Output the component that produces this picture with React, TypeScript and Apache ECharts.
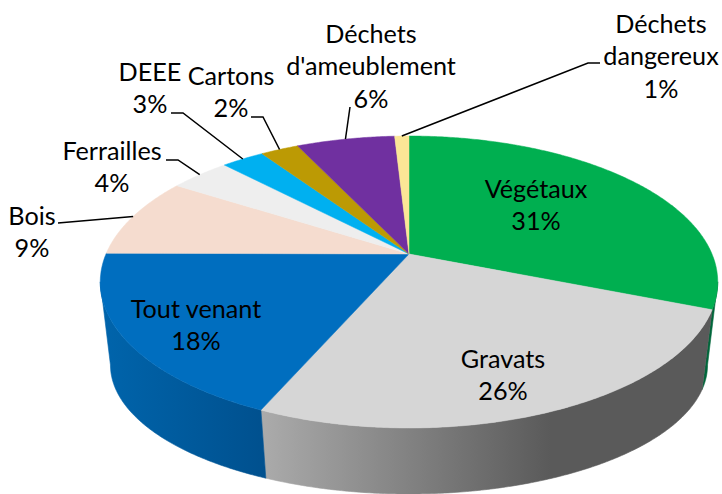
import React, { useEffect, useRef } from "react";
import * as echarts from "echarts";

const categories = ["Végétaux", "Gravats", "Tout venant", "Bois", "Ferrailles", "DEEE", "Cartons", "Déchets\nd'ameublement", "Déchets\ndangereux"];
const values = [31, 25.6, 18.49, 8.91, 3.8, 2.7, 2.4, 6.2, 0.9];
const colors = ["#00AF50", "#D6D6D6", "#006EBF", "#F5DCCF", "#EEEEEE", "#00B0F0", "#BC9A04", "#7030A0", "#FBE696"];

const total = values.reduce((a, b) => a + b, 0);
const cumulative = values.reduce<number[]>((acc, v) => [...acc, acc[acc.length - 1] + v], [0]);

// Perspective disc projection
const CX = 409, PERSP = 0.1918;
const TOP = { cy: 254, a: 140.6, b: 303 };
const BOTTOM = { cy: 340.3, a: 124.2, b: 293 };
const FRONT_FROM = 101, FRONT_TO = 259;

const toAngle = (v: number) => (v / total) * 360;
function project(deg: number, disc: { cy: number; a: number; b: number }) {
  const t = (deg * Math.PI) / 180;
  const X = Math.sin(t), Y = -Math.cos(t);
  const s = 1 / (1 - PERSP * Y);
  return [CX + disc.b * X * s, disc.cy + disc.a * Y * s];
}
function arc(from: number, to: number, disc: { cy: number; a: number; b: number }) {
  const n = Math.max(2, Math.ceil(Math.abs(to - from) * 2));
  const pts: number[][] = [];
  for (let i = 0; i <= n; i++) pts.push(project(from + ((to - from) * i) / n, disc));
  return pts;
}

// Side fills (x in page pixels)
const sideFill: Record<number, any> = {
  0: "#00663A",
  1: new echarts.graphic.LinearGradient(262, 0, 713, 0, [
    { offset: 0, color: "#ABABAB" },
    { offset: 0.64, color: "#5A5A5A" },
    { offset: 1, color: "#5A5A5A" },
  ], true),
  2: new echarts.graphic.LinearGradient(104, 0, 266, 0, [
    { offset: 0, color: "#0064AB" },
    { offset: 1, color: "#00508E" },
  ], true),
};

// Label layout: centre x, first line centre y, and leader elbow points (if any)
const labelLayout: { x: number; y: number; leader?: number[][] }[] = [
  { x: 536, y: 188 },
  { x: 503, y: 358 },
  { x: 196, y: 308 },
  { x: 32, y: 215, leader: [[58, 223]] },
  { x: 112, y: 150, leader: [[178, 160], [166, 160]] },
  { x: 150, y: 71, leader: [[183, 113], [171, 113]] },
  { x: 231, y: 75, leader: [[263, 117], [251, 117]] },
  { x: 371, y: 33, leader: [[350, 107]] },
  { x: 661, y: 23, leader: [[588, 63], [600, 63]] },
];
const FONT = "Lato, Carlito, sans-serif";
const FONT_SIZE = 25.2;
const LINE_H = 32.4;

function renderSide(params: any) {
  const i = params.dataIndex;
  const from = Math.max(toAngle(cumulative[i]), FRONT_FROM);
  const to = Math.min(toAngle(cumulative[i + 1]), FRONT_TO);
  if (to <= from) return { type: "group", children: [] };
  const points = [...arc(from, to, TOP), ...arc(to, from, BOTTOM)];
  const fill = sideFill[i] ?? colors[i];
  return { type: "polygon", shape: { points }, style: { fill, stroke: fill, lineWidth: 0.6 } };
}

function renderTop(params: any) {
  const i = params.dataIndex;
  const points = [[CX, TOP.cy], ...arc(toAngle(cumulative[i]), toAngle(cumulative[i + 1]), TOP)];
  return { type: "polygon", shape: { points }, style: { fill: colors[i], stroke: colors[i], lineWidth: 0.5 } };
}

function renderLabel(params: any) {
  const i = params.dataIndex;
  const l = labelLayout[i];
  const children: any[] = [];
  if (l.leader) {
    const mid = toAngle((cumulative[i] + cumulative[i + 1]) / 2);
    const anchor = project(mid, TOP);
    children.push({
      type: "polyline",
      shape: { points: [anchor, ...l.leader] },
      style: { stroke: "#000000", lineWidth: 1.5, fill: "none" },
    });
  }
  const lines = [...categories[i].split("\n"), `${Math.round(values[i])}%`];
  lines.forEach((text, k) => {
    children.push({
      type: "text",
      style: {
        text,
        x: l.x,
        y: l.y + k * LINE_H,
        align: "center",
        verticalAlign: "middle",
        fill: "#000000",
        font: `${FONT_SIZE}px ${FONT}`,
      },
    });
  });
  return { type: "group", children };
}

export default function App() {
  const ref = useRef<HTMLDivElement>(null);
  useEffect(() => {
    const chart = echarts.init(ref.current!, null, { renderer: "svg" });
    const data = values.map((v) => [v]);
    chart.setOption({
      animation: false,
      backgroundColor: "#FFFFFF",
      series: [
        { type: "custom", coordinateSystem: "none", data, renderItem: renderSide, silent: true, z: 1 },
        { type: "custom", coordinateSystem: "none", data, renderItem: renderTop, silent: true, z: 2 },
        { type: "custom", coordinateSystem: "none", data, renderItem: renderLabel, silent: true, z: 3 },
      ],
    });
    return () => chart.dispose();
  }, []);
  return <div ref={ref} style={{ position: "fixed", left: 0, top: 0, width: 722, height: 494 }} />;
}
